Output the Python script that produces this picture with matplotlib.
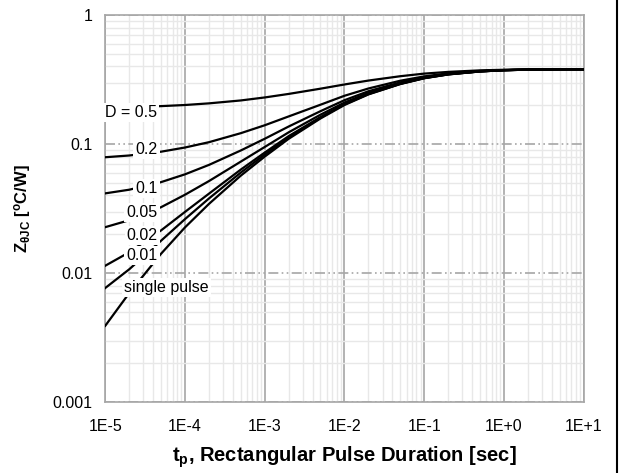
import matplotlib.pyplot as plt
import matplotlib.ticker as mticker
import numpy as np

plt.rcParams['font.family'] = ['Liberation Sans', 'DejaVu Sans']
plt.rcParams['mathtext.fontset'] = 'custom'
plt.rcParams['mathtext.rm'] = 'Liberation Sans'
plt.rcParams['mathtext.it'] = 'Liberation Sans:italic'
plt.rcParams['mathtext.bf'] = 'Liberation Sans:bold'

# pulse duration points (s)
tp = [1e-5, 2e-5, 5e-5, 1e-4, 2e-4, 5e-4, 1e-3, 2e-3, 5e-3, 1e-2,
      2e-2, 5e-2, 1e-1, 2e-1, 5e-1, 1e0, 2e0, 5e0, 1e1]

# transient thermal impedance per duty cycle (degC/W)
z_d05 = [0.192, 0.194, 0.197, 0.201, 0.207, 0.218, 0.230, 0.245, 0.269, 0.290,
         0.311, 0.336, 0.352, 0.363, 0.373, 0.377, 0.379, 0.380, 0.380]
z_d02 = [0.0791, 0.0816, 0.0873, 0.0941, 0.1035, 0.1215, 0.140, 0.164, 0.202, 0.237,
         0.270, 0.310, 0.335, 0.354, 0.369, 0.375, 0.378, 0.380, 0.380]
z_d01 = [0.0415, 0.0443, 0.0507, 0.0583, 0.0690, 0.0892, 0.110, 0.137, 0.180, 0.219,
         0.257, 0.301, 0.330, 0.350, 0.367, 0.375, 0.378, 0.380, 0.380]
z_d005 = [0.0227, 0.0257, 0.0324, 0.0405, 0.0517, 0.0731, 0.095, 0.1235, 0.169, 0.210,
          0.250, 0.296, 0.327, 0.349, 0.367, 0.374, 0.378, 0.380, 0.380]
z_d002 = [0.0114, 0.0145, 0.0214, 0.0298, 0.0413, 0.0634, 0.086, 0.1154, 0.162, 0.205,
          0.246, 0.294, 0.325, 0.348, 0.366, 0.374, 0.378, 0.380, 0.380]
z_d001 = [0.00766, 0.0107, 0.0178, 0.0262, 0.0379, 0.0601, 0.083, 0.1127, 0.160, 0.203,
          0.244, 0.293, 0.325, 0.347, 0.366, 0.374, 0.378, 0.380, 0.380]
z_single = [0.0039, 0.0070, 0.0141, 0.0226, 0.0344, 0.0569, 0.080, 0.110, 0.158, 0.201,
            0.243, 0.292, 0.324, 0.347, 0.366, 0.374, 0.378, 0.380, 0.380]

curves = [z_d05, z_d02, z_d01, z_d005, z_d002, z_d001, z_single]

labels = ['D = 0.5', '0.2', '0.1', '0.05', '0.02', '0.01', 'single pulse']
label_x = [2.1e-5, 3.3e-5, 3.3e-5, 2.9e-5, 2.9e-5, 2.9e-5, 5.8e-5]
label_y = [0.177, 0.0915, 0.0456, 0.0297, 0.0197, 0.0136, 0.0077]

xticks = [1e-5, 1e-4, 1e-3, 1e-2, 1e-1, 1e0, 1e1]
xtick_labels = ['1E-5', '1E-4', '1E-3', '1E-2', '1E-1', '1E+0', '1E+1']
yticks = [0.001, 0.01, 0.1, 1]
ytick_labels = ['0.001', '0.01', '0.1', '1']

fig = plt.figure(figsize=(6.19, 4.73), dpi=100)
ax = fig.add_axes([0.170, 0.150, 0.773, 0.818])

for z in curves:
    ax.plot(tp, z, color='black', lw=1.6, zorder=3, solid_joinstyle='round')

for s, x, y in zip(labels, label_x, label_y):
    ax.text(x, y, s, fontsize=11.5, ha='center', va='center', zorder=4,
            bbox=dict(facecolor='white', edgecolor='none', pad=1.5))

ax.set_xscale('log')
ax.set_yscale('log')
ax.set_xlim(1e-5, 1e1)
ax.set_ylim(1e-3, 1)

ax.set_xticks(xticks)
ax.set_xticklabels(xtick_labels)
ax.set_yticks(yticks)
ax.set_yticklabels(ytick_labels)
ax.xaxis.set_minor_locator(mticker.LogLocator(base=10, subs=np.arange(2, 10)))
ax.yaxis.set_minor_locator(mticker.LogLocator(base=10, subs=np.arange(2, 10)))
ax.xaxis.set_minor_formatter(mticker.NullFormatter())
ax.yaxis.set_minor_formatter(mticker.NullFormatter())
ax.tick_params(which='both', length=0, labelsize=11.5)
ax.tick_params(axis='x', pad=12)
ax.tick_params(axis='y', pad=9)

ax.grid(which='minor', color='#e8e8e8', lw=1.0, zorder=0)
ax.grid(which='major', axis='x', color='#a6a6a6', lw=1.2, zorder=1)
ax.grid(which='major', axis='y', color='#a6a6a6', lw=1.2, ls=(0, (6, 2, 1, 2, 1, 2)), zorder=1)
ax.set_axisbelow(True)
for sp in ax.spines.values():
    sp.set_color('#a6a6a6')
    sp.set_linewidth(1.2)

ax.set_xlabel(r'$\mathbf{t_p}$, Rectangular Pulse Duration [sec]', fontsize=14.5,
              fontweight='bold', labelpad=8)
ax.set_ylabel(r'$\mathbf{Z_{\theta JC}}$ [$^{\mathbf{o}}$C/W]', fontsize=12,
              fontweight='bold', labelpad=14)

# page border on the right
fig.add_artist(plt.Line2D([0.996, 0.996], [0, 1], color='black', lw=1.5))

fig.savefig('out.png', dpi=100)
